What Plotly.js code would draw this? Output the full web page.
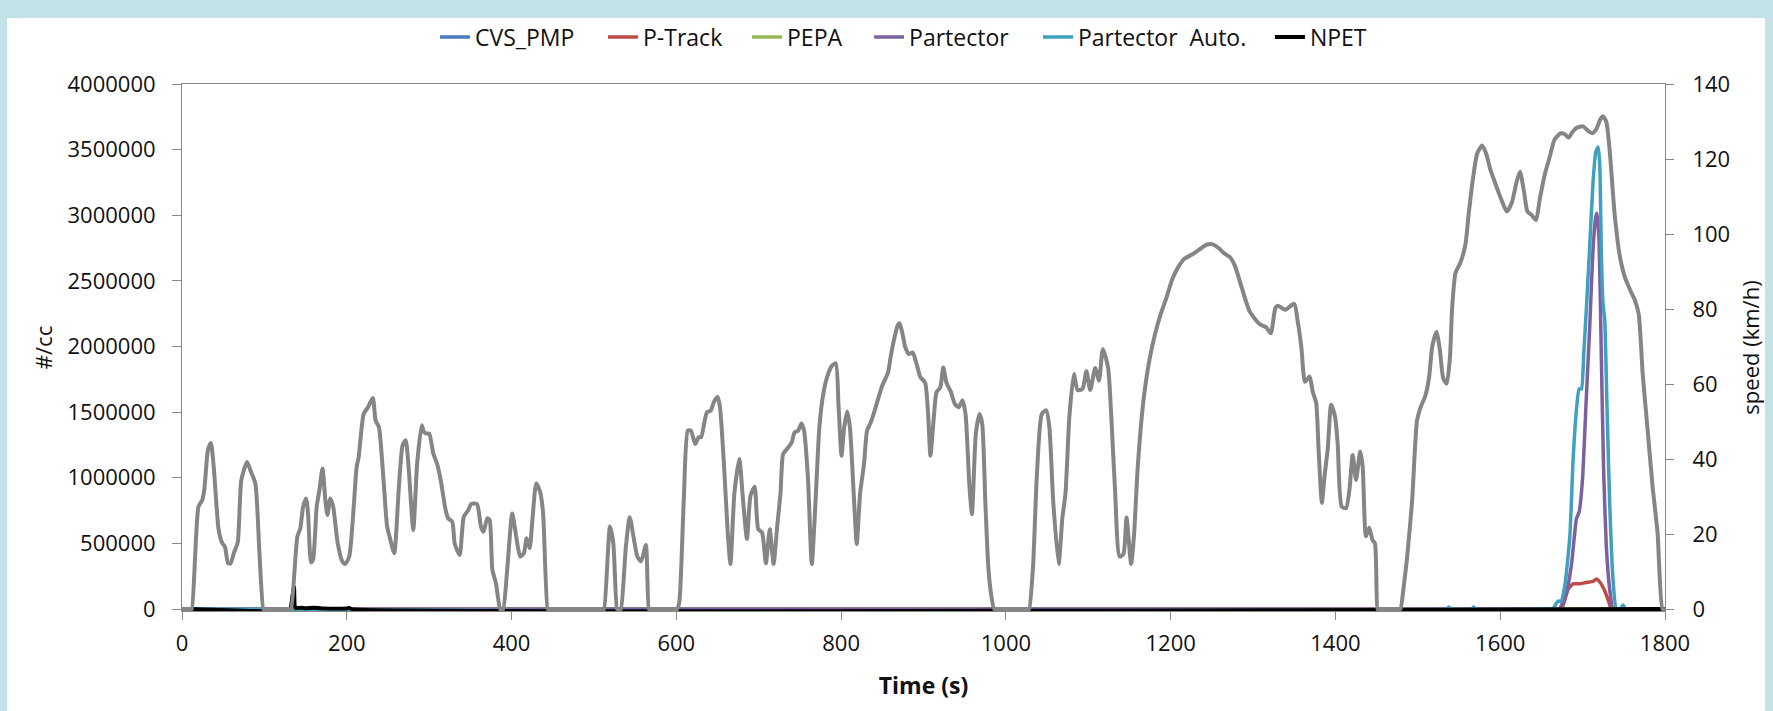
<!DOCTYPE html>
<html>
<head>
<meta charset="utf-8">
<script src="https://cdn.plot.ly/plotly-3.0.1.min.js"></script>
<style>
  html, body { margin: 0; padding: 0; background: #c3e2e8; width: 1773px; height: 711px; overflow: hidden; }
  #chart { position: absolute; left: 7px; top: 18px; width: 1758px; height: 693px; background: #ffffff; }
</style>
</head>
<body>
<div id="chart"></div>
<script>
// ---- Data ----
const xTicks = [0, 200, 400, 600, 800, 1000, 1200, 1400, 1600, 1800];
const yTicks = [0, 500000, 1000000, 1500000, 2000000, 2500000, 3000000, 3500000, 4000000];
const y2Ticks = [0, 20, 40, 60, 80, 100, 120, 140];

// Vehicle speed (km/h), secondary axis
const speedTime = [0, 11, 12, 20, 24.5, 27, 31.5, 35, 38.5, 44.5, 49, 52, 56, 59, 63, 67.6, 72, 79, 83, 89, 94, 98.7, 99.7,
  131.5, 132.5, 140, 143.6, 147, 150.6, 153, 156.6, 159, 163.5, 166.8, 170.5, 174, 176.5, 180, 183.5, 189, 194.6, 198, 203,
  212, 214.5, 220.5, 226, 231.6, 235, 239, 244.6, 249, 253, 257.6, 263, 267.8, 271.5, 275, 280.7, 285.4, 291, 293.7,
  296.5, 300, 305, 309.5, 314, 320, 323, 328, 331, 337, 342, 347.5, 351, 358, 362.8, 366, 370.6, 373.4, 376.7, 381, 386, 387,
  389, 390, 395, 400.8, 404.5, 410.5, 415, 418.3, 422, 425.3, 430, 434.6, 438.3, 443.8, 444.8,
  511.4, 512.4, 519.4, 523.5, 528, 529, 531.8, 532.8, 538.8, 543.4, 548, 552.7, 557.3, 563, 566.6, 567.6,
  600, 601, 603.7, 609, 614, 617.6, 623, 627, 630, 637, 641.7, 645.4, 650, 653, 658, 662.5, 665.7, 670.4, 676.4, 681, 685.7,
  690, 695, 699.4, 704, 708.7, 713.4, 718, 722.7, 726.4, 729.6, 734.3, 740, 743.5, 748, 751.8, 755, 759.7, 764.4, 769,
  773.6, 778.3, 782.9, 789, 793.5, 796.8, 800.5, 803.7, 807.4, 810.7, 815.3, 819, 823, 827.8, 831.5, 836, 840.7, 845.4,
  850, 857, 860, 864, 868.6, 871, 874.6, 877.9, 882.4, 887, 891.7, 896.3, 901.9, 905.6, 908.4, 912.5, 915.8, 920.4, 924,
  927.8, 933.4, 938, 942.6, 947.3, 951, 955.6, 958.8, 963.5, 968, 971.3, 975, 978.7, 982, 985.7, 986.7,
  1027.3, 1028.3, 1032.9, 1037.5, 1043.6, 1049, 1052.8, 1057.4, 1064, 1068.6, 1072.3, 1077, 1082.5, 1087, 1093, 1097.7, 1102.4,
  1108.4, 1113, 1117.7, 1124, 1128, 1132.5, 1138, 1142.7, 1146.4, 1152, 1155.6, 1160, 1167, 1174, 1181, 1188, 1195, 1202,
  1209, 1216, 1228, 1237, 1244, 1250, 1258, 1264, 1272, 1278, 1286, 1296, 1308, 1316, 1321.5, 1327, 1330, 1339, 1350,
  1353.7, 1358.6, 1363, 1368.6, 1372.6, 1376.6, 1379.5, 1383.5, 1386.7, 1390.7, 1394.8, 1399.6, 1402.8, 1407.6, 1412.9,
  1416.9, 1420.9, 1425, 1430, 1433, 1437, 1441, 1445, 1448, 1451, 1452,
  1478, 1479, 1483, 1487, 1493, 1499, 1503, 1509, 1513.5, 1517.5, 1522.7, 1526.8, 1530.8, 1535, 1539, 1541.6, 1545.7, 1551.7,
  1557.7, 1561.8, 1567, 1572, 1578, 1583, 1588, 1594, 1598, 1602, 1608, 1614, 1620, 1624, 1629, 1633, 1638, 1643.4, 1648,
  1654, 1660, 1666, 1673, 1678.5, 1683, 1687.7, 1692.5, 1700.6, 1706.6, 1712, 1716.7, 1721.5, 1724.8, 1728.8, 1732.8,
  1738.8, 1745, 1751, 1757, 1763, 1768, 1773, 1779, 1785, 1791, 1797, 1800];
const speedKmh = [0, 0, 0, 27.3, 29, 31.7, 42.4, 44.3, 37.9, 21.1, 17.5, 16.7, 12.2, 12.2, 15, 17.7, 34.4, 39.2, 37, 33.5, 14.9, 0, 0,
  0, 0, 19.3, 21.5, 27.3, 29.5, 25.5, 12.4, 13.1, 27.3, 31.7, 37.5, 29, 25.1, 29.5, 27.3, 17.5, 12.7, 12, 14,
  37.9, 40.6, 52, 53.9, 56.3, 50.3, 48.5, 34.4, 22, 18.4, 14.9, 31.7, 43.7, 45, 37.9, 21.1, 38.8, 49, 47.2,
  46.8, 46.8, 41.5, 38.8, 34.4, 26.4, 24.2, 23.3, 17.5, 14.4, 24.6, 26.4, 28, 28, 22, 20.6, 24.2, 23.7, 10.5, 6.9, 0, 0,
  0, 0, 11.3, 25.5, 21, 14, 14.9, 18.9, 16.2, 23.7, 33.5, 31.3, 25.5, 0, 0,
  0, 0, 22, 17.5, 0, 0, 0, 0, 16.7, 24.5, 19.3, 14, 12.7, 17.1, 0, 0,
  0, 0, 2, 28.9, 47.6, 47.6, 44, 45.8, 45.8, 52.4, 52.9, 55.1, 56.6, 53.8, 37.8, 20, 12, 30.7, 40, 28.9, 18.7,
  30.2, 32.6, 21.3, 20.4, 12.2, 21.3, 12, 22.7, 30.7, 41.3, 42.7, 44.4, 47.1, 47.6, 49.5, 47.6, 35.1, 12, 28.9,
  48.4, 57.3, 61.8, 64.9, 65.5, 54.7, 40.9, 48.4, 52.7, 48.4, 30.7, 17.3, 30.7, 38.7, 47.6, 49.8, 52.9, 56.4,
  59.6, 63.1, 67.1, 71.6, 75.6, 76.2, 73.3, 69.8, 68, 68.4, 65.3, 61.8, 60.4, 52, 40.9, 51.1, 57.8, 59.1, 64.4,
  60.4, 57.8, 54.7, 53.8, 55.6, 52, 33.3, 25.3, 46.7, 52, 49.3, 28.9, 11.1, 4, 0, 0,
  0, 0, 11.1, 35.1, 52, 53, 48.4, 28.9, 12, 24.4, 30.7, 51.1, 62.7, 58.4, 58.7, 63.4, 58.4,
  64.3, 60.9, 69.3, 64.4, 51.1, 31.6, 14, 14.7, 24.4, 12, 20, 37.8, 55.6, 66.2, 73.3, 78.7, 83.1, 88,
  91.1, 93.3, 94.8, 96.2, 97.2, 97.3, 96.3, 95, 93.8, 91.5, 85.9, 79.3, 76, 75.1, 73.5, 80.2, 80.9, 79.8, 81.4,
  77.4, 69.9, 60.6, 62, 57.8, 55, 42.8, 28.3, 35.3, 42.8, 54.5, 51.2, 43.7, 27.3, 26.9,
  31.6, 41.1, 34.4, 42, 38.1, 19.4, 21.7, 18.4, 17.5, 0, 0,
  0, 0, 6.3, 13.8, 28.7, 50.3, 53.6, 56.8, 61.5, 70, 73.9, 69, 61.5, 60.1, 67.1, 80.2, 89.6, 92.4,
  97.1, 105.5, 114.9, 121.4, 123.6, 121.4, 117.2, 113.5, 111.1, 108.8, 106, 108.3, 114, 116.6, 111.1, 106, 105.1, 103.7, 109.3,
  115.8, 120.5, 125.2, 126.8, 126.6, 125.7, 127.2, 128.3, 128.7, 127.5, 126.9, 128, 130.6, 131.4, 129.9, 122.4,
  105.5, 94.3, 88.7, 85.4, 82.6, 78.8, 62.5, 47.5, 32.5, 20.3, 0, 0];

// Particle number concentrations (#/cc), primary axis
const cvsTime = [12, 1800];
const cvsValues = [0, 0];

const ptrackTime = [12, 1673.5, 1674.5, 1678.5, 1682.5, 1688.5, 1696.6, 1702.6, 1708.7, 1712.7, 1716.7, 1720.8, 1726.8, 1730.8, 1734.8, 1735.8, 1800];
const ptrackValues = [0, 0, 0, 72000, 152000, 192000, 192000, 200000, 206000, 211000, 228000, 206000, 139000, 72000, 0, 0, 0];

const pepaTime = [12, 1800];
const pepaValues = [0, 0];

const partTime = [12, 1671, 1672, 1680.5, 1686.5, 1692.5, 1695.8, 1699.8, 1704.6, 1708.7, 1712.7, 1716, 1717.5, 1720, 1722.8, 1725.6, 1728.8, 1732.8, 1736.8, 1737.8, 1800];
const partValues = [0, 0, 0, 126000, 340000, 688000, 741000, 982000, 1624000, 2159000, 2747000, 2988000, 3015000, 2800000, 1891000, 1035000, 474000, 152000, 0, 0, 0];

const partAutoTime = [12, 1535, 1537.6, 1540, 1565, 1567.8, 1570, 1663, 1664, 1670, 1674, 1678.5, 1684.5, 1688.5, 1692.5, 1695.8, 1698.6, 1701.4, 1704.6, 1708.7, 1712.7, 1716, 1718.8, 1720.8, 1722.8, 1724.8, 1726.8, 1729.6, 1732.8, 1736.8, 1740.9, 1746, 1749, 1752, 1800];
const partAutoValues = [0, 0, 15000, 0, 0, 15000, 0, 0, 0, 60000, 60000, 180000, 554000, 1143000, 1517000, 1677000, 1677000, 1945000, 2292000, 2774000, 3256000, 3483000, 3520000, 3390000, 2694000, 2320000, 2212000, 1543000, 821000, 233000, 0, 0, 30000, 0, 0];

const npetTime = [12, 131, 133.5, 136, 136.8, 138, 145, 150, 160, 170, 200, 203, 206, 1800];
const npetValues = [0, 0, 80000, 170000, 25000, 8000, 10000, 6000, 10000, 5000, 4000, 9000, 0, 0];

const seriesNames = ['CVS_PMP', 'P-Track', 'PEPA', 'Partector', 'Partector\u00a0 Auto.', 'NPET'];
const seriesColors = ['#4a7ebb', '#be4b48', '#98b954', '#7d60a0', '#40a0bf', '#000000'];
const seriesWidths = [3.5, 3.5, 3.5, 3.5, 3.5, 3.9];
const speedColor = '#858585';

const seriesTimes = [cvsTime, ptrackTime, pepaTime, partTime, partAutoTime, npetTime];
const seriesValues = [cvsValues, ptrackValues, pepaValues, partValues, partAutoValues, npetValues];

// legend entry anchor positions (fraction of plot width)
const legendX = [0.1706, 0.2839, 0.3810, 0.4633, 0.5772, 0.7336];
const legendIds = ['legend', 'legend2', 'legend3', 'legend4', 'legend5', 'legend6'];

const traces = seriesNames.map((name, i) => ({
  type: 'scatter', mode: 'lines', name: name, legend: legendIds[i],
  x: seriesTimes[i], y: seriesValues[i],
  line: { color: seriesColors[i], width: seriesWidths[i], shape: 'spline', smoothing: 0.5 },
  hoverinfo: 'skip'
}));
traces.push({
  type: 'scatter', mode: 'lines', name: 'speed', showlegend: false,
  x: speedTime, y: speedKmh, yaxis: 'y2',
  line: { color: speedColor, width: 4, shape: 'spline', smoothing: 0.6 },
  hoverinfo: 'skip'
});

const fam = '"Open Sans", "Noto Sans", sans-serif';
const txt = '#111111';
const axisLine = '#868686';

const layout = {
  width: 1758, height: 693,
  margin: { l: 175, r: 100, t: 66, b: 100, autoexpand: false },
  paper_bgcolor: '#ffffff', plot_bgcolor: '#ffffff',
  font: { family: fam, size: 22, color: txt },
  showlegend: true,
  xaxis: {
    range: [0, 1800], tickmode: 'array', tickvals: xTicks, ticktext: xTicks.map(String),
    ticks: 'outside', ticklen: 8, tickcolor: axisLine, tickwidth: 1,
    showline: true, linecolor: axisLine, linewidth: 1, mirror: true,
    showgrid: false, zeroline: false, ticklabelstandoff: 5,
    tickfont: { family: fam, size: 22, color: txt },
    title: { text: 'Time (s)', font: { family: fam, size: 23, color: txt, weight: 'bold' }, standoff: 21 }
  },
  yaxis: {
    range: [-15000, 4000000], tickmode: 'array', tickvals: yTicks, ticktext: yTicks.map(String),
    ticks: 'outside', ticklen: 9, tickcolor: axisLine, tickwidth: 1,
    showline: true, linecolor: axisLine, linewidth: 1,
    showgrid: false, zeroline: false, ticklabelstandoff: 12,
    tickfont: { family: fam, size: 22, color: txt },
    title: { text: '#/cc', font: { family: fam, size: 22, color: txt }, standoff: 8 }
  },
  yaxis2: {
    overlaying: 'y', side: 'right',
    range: [-0.525, 140], tickmode: 'array', tickvals: y2Ticks, ticktext: y2Ticks.map(String),
    ticks: 'outside', ticklen: 8, tickcolor: axisLine, tickwidth: 1,
    showline: true, linecolor: axisLine, linewidth: 1,
    showgrid: false, zeroline: false, ticklabelstandoff: 14,
    tickfont: { family: fam, size: 22, color: txt },
    title: { text: 'speed (km/h)', font: { family: fam, size: 22, color: txt }, standoff: 16 }
  }
};
legendIds.forEach((id, i) => {
  layout[id] = {
    orientation: 'h', x: legendX[i], xanchor: 'left', y: 1.0892, yanchor: 'middle',
    font: { family: fam, size: 23, color: txt }, bgcolor: 'rgba(0,0,0,0)', borderwidth: 0
  };
});

Plotly.newPlot('chart', traces, layout, { staticPlot: true, displayModeBar: false });
</script>
</body>
</html>
